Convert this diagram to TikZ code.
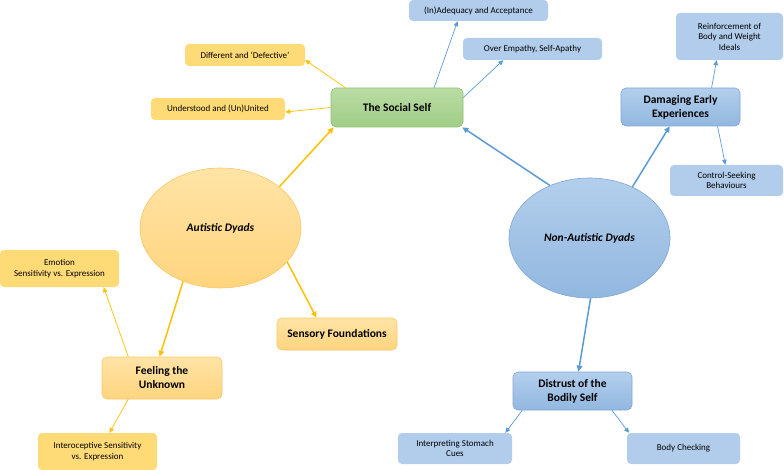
\documentclass[tikz,border=0pt]{standalone}
\usepackage{fontspec}
\setmainfont{Carlito}
\usetikzlibrary{arrows.meta,shapes.geometric,calc}
\definecolor{ysmall}{HTML}{FFDB78}
\definecolor{ytop}{HTML}{FFE4A6}
\definecolor{ybot}{HTML}{FFD47E}
\definecolor{ybord}{HTML}{F7C86A}
\definecolor{gtop}{HTML}{BADCA5}
\definecolor{gbot}{HTML}{A0CD86}
\definecolor{gbord}{HTML}{8DC06E}
\definecolor{btop}{HTML}{B3CFEC}
\definecolor{bbot}{HTML}{92B7E0}
\definecolor{bbord}{HTML}{7DA7D8}
\definecolor{bsmall}{HTML}{B1CDEB}
\definecolor{barrow}{HTML}{5B9BD5}
\definecolor{yarrow}{HTML}{FFC000}
\begin{document}
\begin{tikzpicture}[x=1pt,y=-1pt,
  smalltxt/.style={font=\fontsize{9}{10.5}\selectfont, align=center, inner sep=0pt},
  bigtxt/.style={font=\fontsize{11.5}{14}\selectfont\bfseries, align=center, inner sep=0pt},
  ysm/.style={smalltxt, fill=ysmall, rounded corners=4pt},
  bsm/.style={smalltxt, fill=bsmall, rounded corners=4pt},
  ymain/.style={bigtxt, top color=ytop, bottom color=ybot, draw=ybord, line width=0.6pt, rounded corners=5pt},
  bmain/.style={bigtxt, top color=btop, bottom color=bbot, draw=bbord, line width=0.6pt, rounded corners=5pt},
  gmain/.style={bigtxt, top color=gtop, bottom color=gbot, draw=gbord, line width=0.6pt, rounded corners=5pt},
  yell/.style={ellipse, bigtxt, font=\fontsize{11.5}{14}\selectfont\bfseries\itshape, top color=ytop, bottom color=ybot, draw=ybord, line width=0.6pt},
  bell/.style={ellipse, bigtxt, font=\fontsize{11.5}{14}\selectfont\bfseries\itshape, top color=btop, bottom color=bbot, draw=bbord, line width=0.6pt},
  ythin/.style={draw=yarrow, line width=0.7pt, -{Triangle[length=5pt,width=4.5pt]}},
  ythick/.style={draw=yarrow, line width=1.5pt, -{Triangle[length=6pt,width=5.5pt]}},
  bthin/.style={draw=barrow, line width=0.7pt, -{Triangle[length=5pt,width=4.5pt]}},
  bthick/.style={draw=barrow, line width=1.5pt, -{Triangle[length=6pt,width=5.5pt]}}
]
\useasboundingbox (0,0) rectangle (784,470);

% nodes
\node[gmain, minimum width=132pt, minimum height=39pt] (soc) at (397,107.5) {The Social Self};
\node[bsm, minimum width=139pt, minimum height=21pt] (ade) at (478.5,10.5) {(In)Adequacy and Acceptance};
\node[bsm, minimum width=139pt, minimum height=22pt] (over) at (532.5,49) {Over Empathy, Self-Apathy};
\node[ysm, minimum width=120pt, minimum height=22pt] (diff) at (245,55) {Different and ‘Defective’};
\node[ysm, minimum width=134pt, minimum height=22pt] (und) at (218,109) {Understood and (Un)United};

\node[yell, minimum width=161pt, minimum height=120pt] (aut) at (220.5,228) {Autistic Dyads};
\node[ysm, minimum width=119pt, minimum height=37pt] (emo) at (59.5,268.5) {Emotion\\Sensitivity vs. Expression};
\node[ymain, minimum width=120pt, minimum height=32pt] (sens) at (337,334) {Sensory Foundations};
\node[ymain, minimum width=120pt, minimum height=42pt] (feel) at (162,378) {Feeling the\\Unknown};
\node[ysm, minimum width=119pt, minimum height=37pt] (inter) at (97.5,451.5) {Interoceptive Sensitivity\\vs. Expression};

\node[bell, minimum width=161pt, minimum height=120pt] (non) at (589.5,238) {Non-Autistic Dyads};
\node[bmain, minimum width=119pt, minimum height=38pt] (dam) at (680.5,107) {Damaging Early\\Experiences};
\node[bsm, minimum width=107pt, minimum height=47pt] (reinf) at (729.5,36.5) {Reinforcement of\\Body and Weight\\Ideals};
\node[bsm, minimum width=113pt, minimum height=31pt] (ctrl) at (726.5,180.5) {Control-Seeking\\Behaviours};
\node[bmain, minimum width=119pt, minimum height=38pt] (dist) at (572.5,391) {Distrust of the\\Bodily Self};
\node[bsm, minimum width=114pt, minimum height=31pt] (interp) at (455,448.5) {Interpreting Stomach\\Cues};
\node[bsm, minimum width=113pt, minimum height=31pt] (body) at (683.5,448.5) {Body Checking};

% connectors
\draw[ythin] ($(soc.north west)!0.11!(soc.north east)$) -- ([yshift=-5pt]diff.east);
\draw[ythin] (soc.west) -- ([yshift=-3pt]und.east);
\draw[bthin] ($(soc.north west)!0.78!(soc.north east)$) -- ($(ade.south west)!0.35!(ade.south east)$);
\draw[bthin] ([yshift=10pt]soc.east) -- ($(over.south west)!0.29!(over.south east)$);

\draw[ythick] (aut.35) -- ([xshift=3pt]soc.south west);
\draw[bthick] (non.127) -- ([xshift=-1pt]soc.south east);

\draw[ythick] (aut.-27) -- ($(sens.north west)!0.33!(sens.north east)$);
\draw[ythick] (aut.235) -- ($(feel.north west)!0.48!(feel.north east)$);
\draw[ythin] ($(feel.north west)!0.22!(feel.north east)$) -- ($(emo.south west)!0.87!(emo.south east)$);
\draw[ythin] ($(feel.south west)!0.22!(feel.south east)$) -- ($(inter.north west)!0.6!(inter.north east)$);

\draw[bthick] (non.50) -- ($(dam.south west)!0.41!(dam.south east)$);
\draw[bthin] ($(dam.north west)!0.76!(dam.north east)$) -- ($(reinf.south west)!0.38!(reinf.south east)$);
\draw[bthin] ($(dam.south west)!0.81!(dam.south east)$) -- ($(ctrl.north west)!0.49!(ctrl.north east)$);
\draw[bthick] (non.-89) -- ($(dist.north west)!0.55!(dist.north east)$);
\draw[bthin] ($(dist.south west)!0.08!(dist.south east)$) -- ($(interp.north west)!0.94!(interp.north east)$);
\draw[bthin] ($(dist.south west)!0.83!(dist.south east)$) -- ($(body.north west)!0.02!(body.north east)$);
\end{tikzpicture}
\end{document}
